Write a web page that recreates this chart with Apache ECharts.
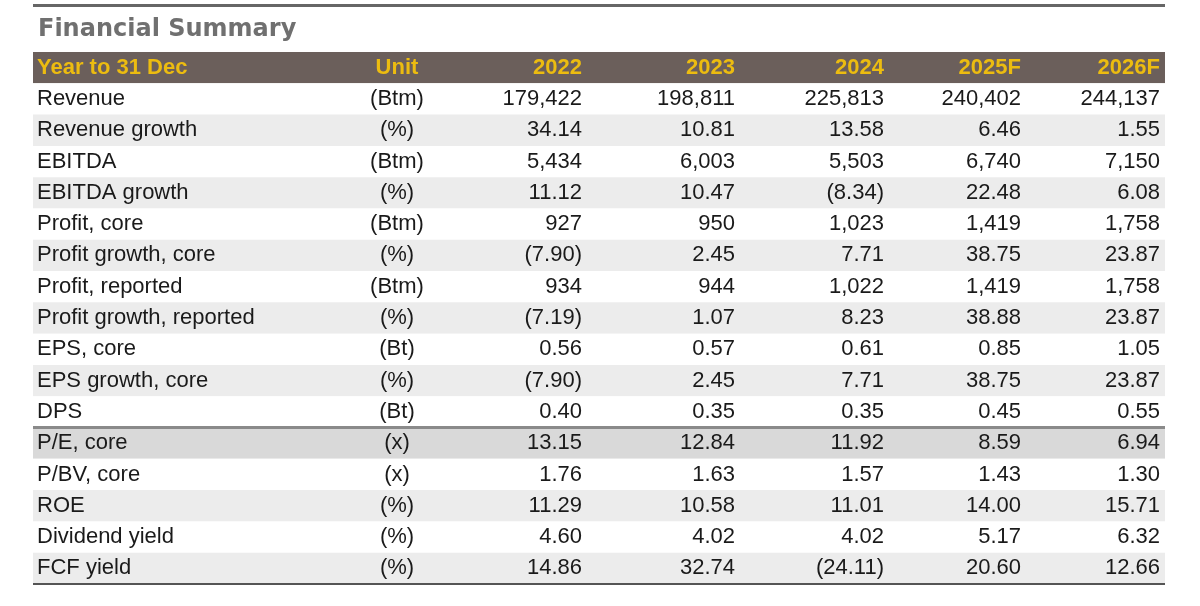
<!DOCTYPE html>
<html>
<head>
<meta charset="utf-8">
<script src="https://cdn.jsdelivr.net/npm/echarts@6/dist/echarts.min.js"></script>
<style>html,body{margin:0;padding:0;background:#fff}#main{width:1200px;height:606px}</style>
</head>
<body>
<div id="main"></div>
<script>
var header = ["Year to 31 Dec", "Unit", "2022", "2023", "2024", "2025F", "2026F"];
var rowNames = ["Revenue", "Revenue growth", "EBITDA", "EBITDA growth", "Profit, core", "Profit growth, core",
    "Profit, reported", "Profit growth, reported", "EPS, core", "EPS growth, core", "DPS",
    "P/E, core", "P/BV, core", "ROE", "Dividend yield", "FCF yield"];
var units = ["(Btm)", "(%)", "(Btm)", "(%)", "(Btm)", "(%)", "(Btm)", "(%)", "(Bt)", "(%)", "(Bt)",
    "(x)", "(x)", "(%)", "(%)", "(%)"];
var y2022 = ["179,422", "34.14", "5,434", "11.12", "927", "(7.90)", "934", "(7.19)", "0.56", "(7.90)", "0.40", "13.15", "1.76", "11.29", "4.60", "14.86"];
var y2023 = ["198,811", "10.81", "6,003", "10.47", "950", "2.45", "944", "1.07", "0.57", "2.45", "0.35", "12.84", "1.63", "10.58", "4.02", "32.74"];
var y2024 = ["225,813", "13.58", "5,503", "(8.34)", "1,023", "7.71", "1,022", "8.23", "0.61", "7.71", "0.35", "11.92", "1.57", "11.01", "4.02", "(24.11)"];
var y2025 = ["240,402", "6.46", "6,740", "22.48", "1,419", "38.75", "1,419", "38.88", "0.85", "38.75", "0.45", "8.59", "1.43", "14.00", "5.17", "20.60"];
var y2026 = ["244,137", "1.55", "7,150", "6.08", "1,758", "23.87", "1,758", "23.87", "1.05", "23.87", "0.55", "6.94", "1.30", "15.71", "6.32", "12.66"];

(function () {
    var myChart = echarts.init(document.getElementById('main'));
    var rows = [header];
    for (var i = 0; i < rowNames.length; i++) {
        rows.push([rowNames[i], units[i], y2022[i], y2023[i], y2024[i], y2025[i], y2026[i]]);
    }
    var cats = rows.map(function (r, i) { return 'r' + i; });
    // column anchors on the x scale: label left, unit centre, numbers right
    var colX = [37, 397, 582, 735, 884, 1021, 1160];
    var colAlign = ['left', 'center', 'right', 'right', 'right', 'right', 'right'];

    function renderItem(params, api) {
        var r = api.value(0);
        var row = rows[r];
        var c = api.coord([0, r]);
        var band = api.size([0, 1])[1];
        var yTop = c[1] - band / 2;
        var x0 = api.coord([33, r])[0], x1 = api.coord([1165, r])[0];
        var fill = '#fff';
        if (r === 0) fill = '#6b5f5b';
        else if (r === 12) fill = '#d9d9d9';
        else if (r % 2 === 0) fill = '#ececec';
        var children = [{
            type: 'rect', shape: { x: x0, y: yTop, width: x1 - x0, height: band },
            style: { fill: fill }
        }];
        for (var j = 0; j < row.length; j++) {
            children.push({
                type: 'text', x: api.coord([colX[j], r])[0], y: c[1],
                style: {
                    text: row[j], fill: r === 0 ? '#ecbc10' : '#1a1a1a',
                    fontFamily: 'Liberation Sans', fontSize: 22,
                    fontWeight: r === 0 ? 'bold' : 'normal',
                    align: colAlign[j], verticalAlign: 'middle'
                }
            });
        }
        if (r === 12) {
            children.push({ type: 'rect', shape: { x: x0, y: yTop - 1.5, width: x1 - x0, height: 3 }, style: { fill: '#8a8a8a' } });
        }
        if (r === rows.length - 1) {
            children.push({ type: 'rect', shape: { x: x0, y: yTop + band - 1, width: x1 - x0, height: 2 }, style: { fill: '#555' } });
        }
        return { type: 'group', children: children };
    }

    var option = {
        animation: false,
        graphic: [
            { type: 'rect', shape: { x: 33, y: 4, width: 1132, height: 3 }, style: { fill: '#666' } },
            { type: 'text', left: 38, top: 18, style: { text: 'Financial Summary', fill: '#707070',
                fontFamily: 'DejaVu Sans', fontSize: 24, fontWeight: 'bold' } }
        ],
        grid: { left: 0, right: 0, top: 52, bottom: 22 },
        xAxis: { type: 'value', min: 0, max: 1200, show: false },
        yAxis: { type: 'category', data: cats, inverse: true, show: false },
        series: [{
            type: 'custom',
            renderItem: renderItem,
            data: rows.map(function (r, i) { return [i]; }),
            encode: { y: 0 }
        }]
    };
    myChart.setOption(option);
    window.addEventListener("resize", function () {
        myChart.resize();
    });
})();
</script>
</body>
</html>
